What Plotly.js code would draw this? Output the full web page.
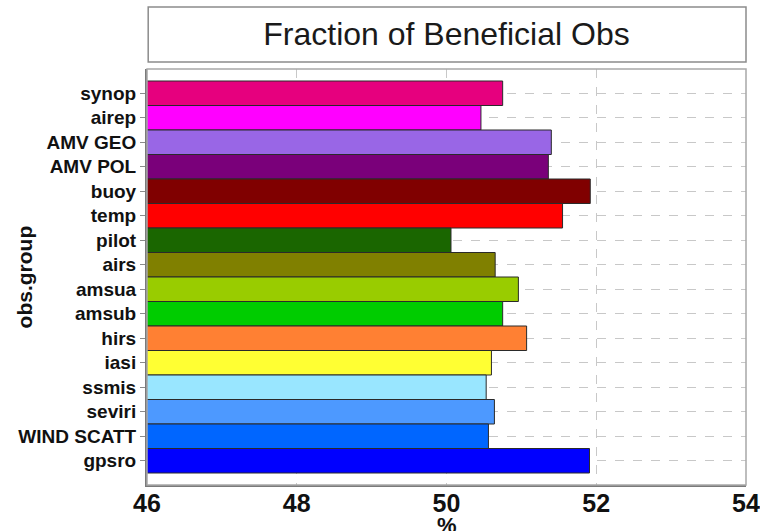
<!DOCTYPE html>
<html>
<head>
<meta charset="utf-8">
<script src="https://cdn.plot.ly/plotly-3.0.1.min.js"></script>
<style>
  html, body { margin: 0; padding: 0; background: #ffffff; }
  #chart { width: 760px; height: 531px; }
</style>
</head>
<body>
<div id="chart"></div>
<script>
// Observation groups, top to bottom
const groups = ["synop", "airep", "AMV GEO", "AMV POL", "buoy", "temp", "pilot", "airs",
                "amsua", "amsub", "hirs", "iasi", "ssmis", "seviri", "WIND SCATT", "gpsro"];

// Fraction of observations that reduce forecast error (%)
const fraction = [50.75, 50.46, 51.40, 51.36, 51.92, 51.55, 50.06, 50.65,
                  50.96, 50.75, 51.07, 50.60, 50.53, 50.64, 50.56, 51.91];

// Fill colour per group
const groupColors = ["#e6007e", "#ff00ff", "#9966e6", "#7a007a", "#800000", "#ff0000", "#1a6600", "#808000",
                     "#99cc00", "#00cc00", "#ff8033", "#ffff33", "#99e6ff", "#4d99ff", "#0066ff", "#0000ff"];

const xTicks = [46, 48, 50, 52, 54];

const FONT = "'Liberation Sans', Arial, Helvetica, sans-serif";

const trace = {
  type: "bar",
  orientation: "h",
  y: groups,
  x: fraction,
  base: 0,
  marker: { color: groupColors, line: { color: "#2a2a2a", width: 1 } },
  hoverinfo: "y+x"
};

const layout = {
  width: 760,
  height: 531,
  margin: { l: 147, r: 14, t: 69, b: 46 },
  paper_bgcolor: "#ffffff",
  plot_bgcolor: "#ffffff",
  showlegend: false,
  bargap: 0,
  font: { family: FONT, color: "#111111" },
  title: {
    text: "Fraction of Beneficial Obs",
    font: { family: FONT, size: 32, color: "#1a1a1a" },
    xref: "paper", x: 0.5, xanchor: "center",
    yref: "container", y: 0.936, yanchor: "middle"
  },
  xaxis: {
    range: [46, 54],
    tickvals: xTicks,
    ticktext: xTicks.map(String),
    tickfont: { family: FONT, size: 25, color: "#111111", weight: "bold" },
    ticks: "",
    ticklabelstandoff: -5,
    showgrid: true,
    gridcolor: "#c8c8c8",
    griddash: "dash",
    gridwidth: 1,
    showline: true,
    linecolor: "#7a7a7a",
    linewidth: 2,
    zeroline: false,
    fixedrange: true
  },
  yaxis: {
    type: "category",
    categoryorder: "array",
    categoryarray: groups,
    range: [15.99, -0.99],
    tickfont: { family: FONT, size: 19, color: "#111111", weight: "bold" },
    ticks: "outside",
    ticklen: 5,
    tickcolor: "#8a8a8a",
    tickwidth: 1,
    ticklabelstandoff: 0,
    showgrid: true,
    gridcolor: "#c8c8c8",
    griddash: "dash",
    gridwidth: 1,
    showline: true,
    linecolor: "#7a7a7a",
    linewidth: 2,
    zeroline: false,
    fixedrange: true
  },
  shapes: [
    // plot frame
    { type: "rect", xref: "paper", yref: "paper", x0: 0, x1: 1, y0: 0, y1: 1,
      line: { color: "#a8a8a8", width: 1.5 }, fillcolor: "rgba(0,0,0,0)", layer: "above" },
    // title box
    { type: "rect", xref: "paper", yref: "paper", x0: 0.002, x1: 1, y0: 1.0168, y1: 1.149,
      line: { color: "#8c8c8c", width: 1.5 }, fillcolor: "rgba(0,0,0,0)" }
  ],
  annotations: [
    { text: "%", xref: "paper", yref: "paper", x: 0.5, y: -0.098,
      xanchor: "center", yanchor: "middle", showarrow: false,
      font: { family: FONT, size: 22, color: "#111111", weight: "bold" } },
    { text: "obs.group", xref: "paper", yref: "paper", x: -0.204, y: 0.501,
      xanchor: "center", yanchor: "middle", textangle: -90, showarrow: false,
      font: { family: FONT, size: 21, color: "#111111", weight: "bold" } }
  ]
};

Plotly.newPlot("chart", [trace], layout, { displayModeBar: false, staticPlot: true });
</script>
</body>
</html>
